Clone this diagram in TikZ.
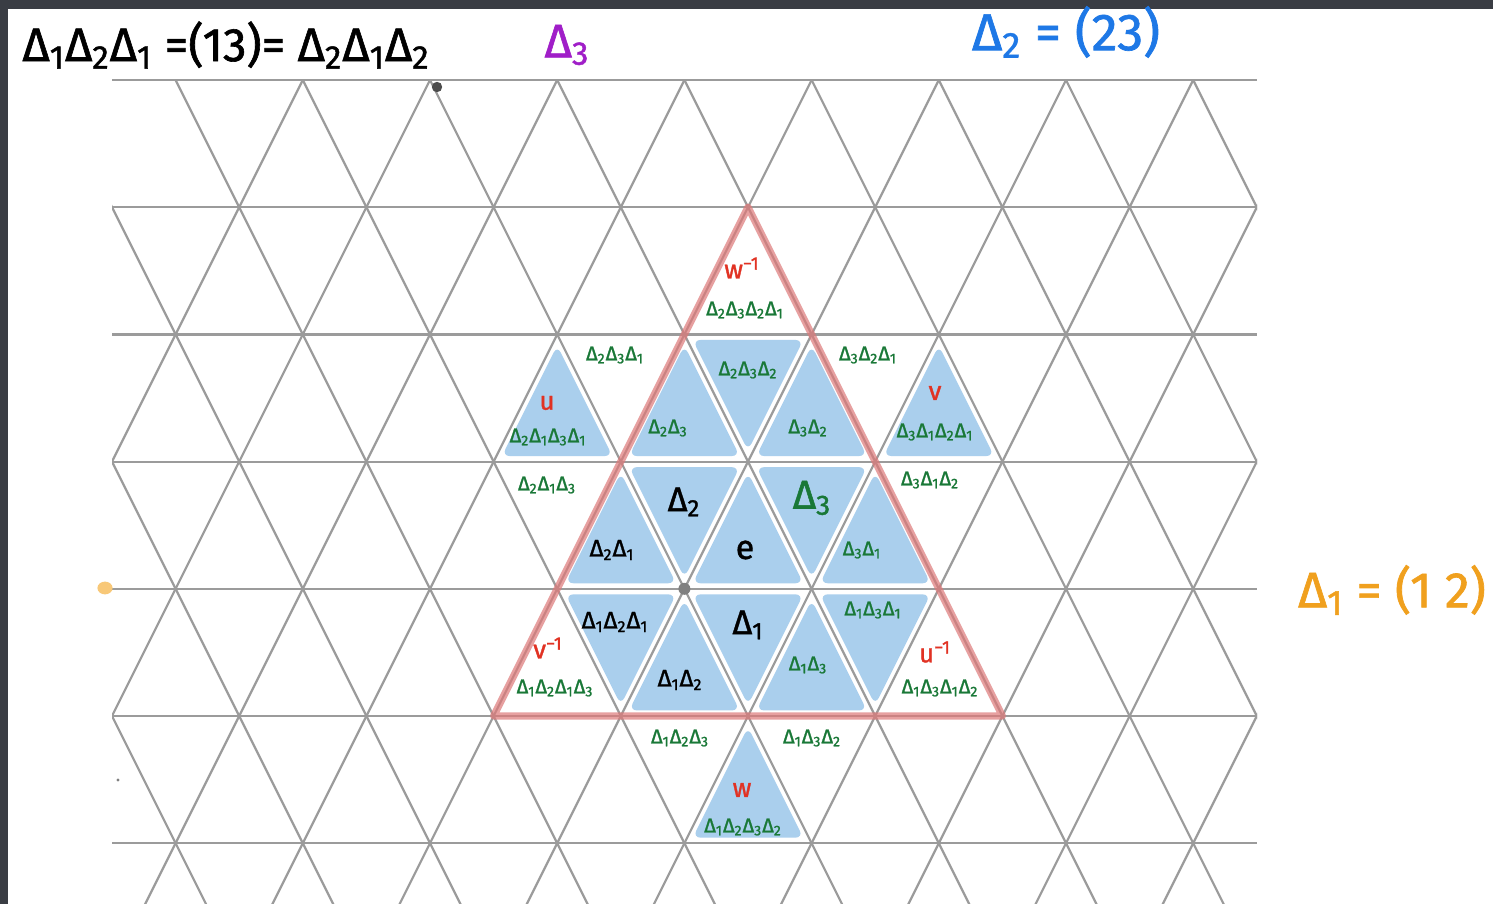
\documentclass[tikz,border=0pt]{standalone}
\usepackage{fontspec}
\setmainfont{Fira Sans}[FakeBold=1.3]
\newcommand\Dd[1]{Δ\textsubscript{#1}}
\definecolor{gridgray}{RGB}{155,155,155}
\definecolor{bluefill}{RGB}{170,207,237}
\definecolor{redline}{RGB}{222,120,120}
\definecolor{lblgreen}{RGB}{25,120,55}
\definecolor{lblred}{RGB}{225,50,35}
\definecolor{lblpurple}{RGB}{160,30,200}
\definecolor{lblblue}{RGB}{30,120,230}
\definecolor{lblorange}{RGB}{240,160,30}
\definecolor{dotorange}{RGB}{248,200,120}
\definecolor{darkframe}{RGB}{58,61,68}
% up triangle with apex at lattice point (m,j)
\newcommand\upT[2]{\fill[bluetri] ({112+63.6*#1},{80+127.2*(#2+0.6667-0.87*0.6667)}) -- ({112+63.6*(#1-0.87)},{80+127.2*(#2+0.6667+0.87*0.3333)}) -- ({112+63.6*(#1+0.87)},{80+127.2*(#2+0.6667+0.87*0.3333)}) -- cycle;}
% down triangle with top edge centred at lattice point (m,j)
\newcommand\dnT[2]{\fill[bluetri] ({112+63.6*(#1-0.87)},{80+127.2*(#2+0.3333-0.87*0.3333)}) -- ({112+63.6*(#1+0.87)},{80+127.2*(#2+0.3333-0.87*0.3333)}) -- ({112+63.6*#1},{80+127.2*(#2+0.3333+0.87*0.6667)}) -- cycle;}
\begin{document}
\begin{tikzpicture}[x=0.5pt,y=-0.5pt,
  gridline/.style={draw=gridgray,line width=1.1pt},
  bluetri/.style={fill=bluefill,rounded corners=4pt},
  redtri/.style={draw=redline,opacity=0.7,line width=3.6pt,line join=round},
  glabel/.style={text=lblgreen,font=\fontsize{10}{10}\selectfont,inner sep=0pt},
  klabel/.style={text=black,font=\fontsize{12}{12}\selectfont,inner sep=0pt},
  kbig/.style={text=black,font=\fontsize{17}{17}\selectfont,inner sep=0pt},
  rlabel/.style={text=lblred,font=\fontsize{13}{13}\selectfont,inner sep=0pt},
  toplabel/.style={font=\fontsize{23.5}{23.5}\selectfont,inner sep=0pt}
]
\useasboundingbox (0,0) rectangle (1493,904);
\fill[white] (0,0) rectangle (1493,904);
\fill[darkframe] (0,0) rectangle (1493,9);
\fill[darkframe] (0,0) rectangle (8,904);

% blue cells
\upT{7}{2} \upT{9}{2} \dnT{10}{2} \upT{11}{2} \upT{13}{2}
\upT{8}{3} \dnT{9}{3} \upT{10}{3} \dnT{11}{3} \upT{12}{3}
\dnT{8}{4} \upT{9}{4} \dnT{10}{4} \upT{11}{4} \dnT{12}{4}
\upT{10}{5}

% lattice
\begin{scope}
\clip (112,80) rectangle (1257,904);
\foreach \j in {0,...,6}{
  \draw[gridline] (112,{80+127.2*\j}) -- (1257,{80+127.2*\j});
}
\foreach \c in {-7,-5,...,19}{
  \draw[gridline] ({112+63.6*(\c-1)},{80-127.2}) -- ({112+63.6*(\c+8)},{80+127.2*8});
}
\foreach \c in {3,5,...,27}{
  \draw[gridline] ({112+63.6*(\c+1)},{80-127.2}) -- ({112+63.6*(\c-8)},{80+127.2*8});
}
\end{scope}

% red triangle
\coordinate (RA) at (748,207.2);
\coordinate (RB) at (493.6,716);
\coordinate (RC) at (1002.4,716);
\draw[redtri] (RA) -- (RB) -- (RC) -- cycle;

% dots
\fill[gray!60!black] (437,87) circle (2.6pt);
\fill[gray] (684.4,588.8) circle (3pt);
\fill[dotorange] (105,588) ellipse (3.8pt and 3.2pt);
\fill[gray] (118,780) circle (0.8pt);

% header labels
\node[toplabel,text=black] (eq13) at (226,45) {\Dd{1}\Dd{2}\Dd{1} =(13)= \Dd{2}\Dd{1}\Dd{2}};
\node[toplabel,text=lblpurple] (d3top) at (567,45) {\Dd{3}};
\node[toplabel,text=lblblue,font=\fontsize{26}{26}\selectfont] (d2top) at (1066,32) {\Dd{2} = (23)};
\node[toplabel,text=lblorange,font=\fontsize{25}{25}\selectfont] (d1top) at (1392,590) {\Dd{1} = (1 2)};

% cell labels
\node[rlabel] (wi) at (742,268) {w\textsuperscript{−1}};
\node[glabel] (g2321) at (745,310) {\Dd{2}\Dd{3}\Dd{2}\Dd{1}};
\node[glabel] (g231) at (615,355) {\Dd{2}\Dd{3}\Dd{1}};
\node[rlabel] (uu) at (547,403) {u};
\node[glabel] (g2131) at (548,437) {\Dd{2}\Dd{1}\Dd{3}\Dd{1}};
\node[glabel] (g23) at (668,428) {\Dd{2}\Dd{3}};
\node[glabel] (g232) at (748,370) {\Dd{2}\Dd{3}\Dd{2}};
\node[glabel] (g32) at (808,428) {\Dd{3}\Dd{2}};
\node[glabel] (g321) at (868,355) {\Dd{3}\Dd{2}\Dd{1}};
\node[rlabel] (vv) at (935,393) {v};
\node[glabel] (g3121) at (935,432) {\Dd{3}\Dd{1}\Dd{2}\Dd{1}};
\node[glabel] (g213) at (547,485) {\Dd{2}\Dd{1}\Dd{3}};
\node[kbig] (k2) at (684,502) {\Dd{2}};
\node[kbig,text=lblgreen,font=\fontsize{20}{20}\selectfont] (g3) at (812,498) {\Dd{3}};
\node[klabel] (k21) at (612,550) {\Dd{2}\Dd{1}};
\node[kbig] (ke) at (745,550) {e};
\node[glabel] (g31) at (862,550) {\Dd{3}\Dd{1}};
\node[glabel] (g312) at (930,480) {\Dd{3}\Dd{1}\Dd{2}};
\node[klabel] (k121) at (615,622) {\Dd{1}\Dd{2}\Dd{1}};
\node[kbig] (k1) at (748,625) {\Dd{1}};
\node[glabel] (g131) at (873,610) {\Dd{1}\Dd{3}\Dd{1}};
\node[rlabel] (vi) at (548,648) {v\textsuperscript{−1}};
\node[glabel] (g1213) at (555,688) {\Dd{1}\Dd{2}\Dd{1}\Dd{3}};
\node[klabel] (k12) at (680,680) {\Dd{1}\Dd{2}};
\node[glabel] (g13) at (808,665) {\Dd{1}\Dd{3}};
\node[rlabel] (ui) at (935,652) {u\textsuperscript{−1}};
\node[glabel] (g1312) at (940,688) {\Dd{1}\Dd{3}\Dd{1}\Dd{2}};
\node[glabel] (g123) at (680,738) {\Dd{1}\Dd{2}\Dd{3}};
\node[glabel] (g132) at (812,738) {\Dd{1}\Dd{3}\Dd{2}};
\node[rlabel] (ww) at (742,790) {w};
\node[glabel] (g1232) at (743,827) {\Dd{1}\Dd{2}\Dd{3}\Dd{2}};
\end{tikzpicture}
\end{document}
